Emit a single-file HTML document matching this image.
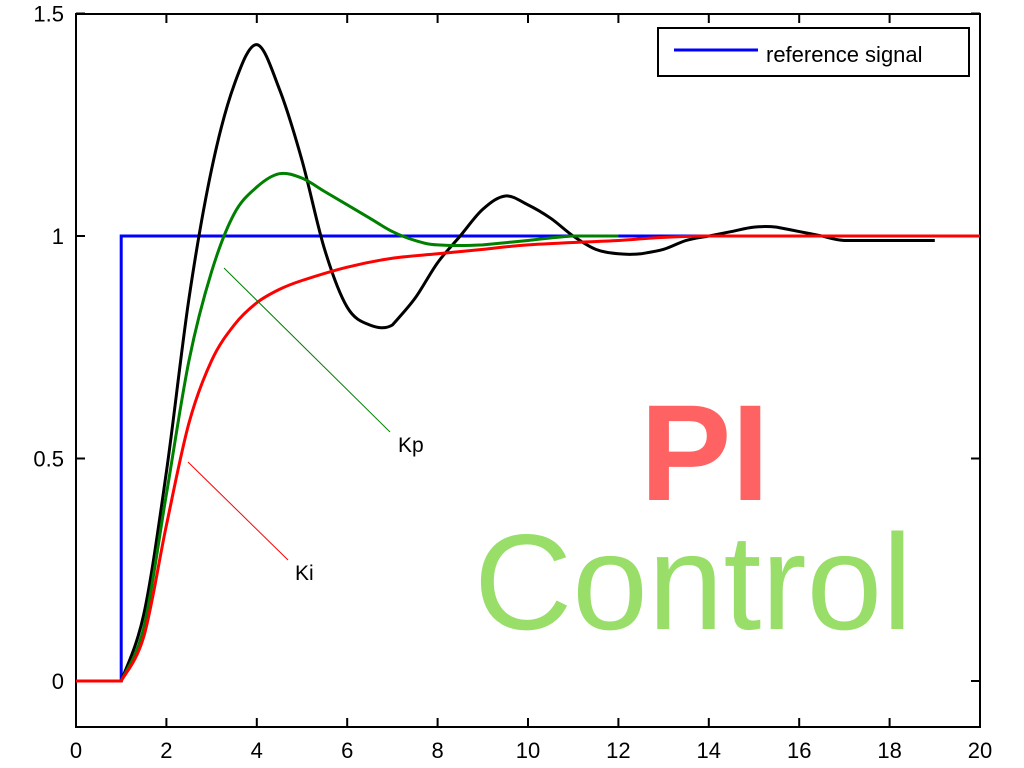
<!DOCTYPE html>
<html><head><meta charset="utf-8"><style>
html,body{margin:0;padding:0;background:#fff;}
svg{display:block;font-family:"Liberation Sans",sans-serif;}
</style></head><body>
<svg id="chart" width="1024" height="768" viewBox="0 0 1024 768" xmlns="http://www.w3.org/2000/svg">
<rect x="76" y="14" width="904" height="713" fill="#fff" stroke="#000" stroke-width="2"/>
<g id="ticks"></g>
<g id="series"></g>
<line x1="224" y1="268" x2="390" y2="432" stroke="#008000" stroke-width="1"/>
<text x="398" y="452" font-size="21">Kp</text>
<line x1="188" y1="462" x2="288" y2="560" stroke="#ff0000" stroke-width="1"/>
<text x="295" y="580" font-size="21">Ki</text>
<g>
<rect x="658" y="28" width="311" height="48" fill="#fff" stroke="#000" stroke-width="2"/>
<line x1="674" y1="50" x2="758" y2="50" stroke="#0000ff" stroke-width="3"/>
<text x="766" y="62" font-size="22">reference signal</text>
</g>
<text x="640" y="500" font-size="137" font-weight="bold" fill="#ff6262">PI</text>
<text x="474" y="629" font-size="136" fill="#98de68">Control</text>
</svg>
<script>
const xTicks=[0,2,4,6,8,10,12,14,16,18,20];
const yTicks=[0,0.5,1,1.5];
const yTickLabels=["0","0.5","1","1.5"];
const refT=[0,1,1,20];
const refV=[0,0,1,1];
const blackT=[0,1,1.5,2,2.5,3,3.5,4,4.5,5,5.5,6,6.5,7,7.5,8,8.5,9,9.5,10,10.5,11,11.5,12,12.5,13,13.5,14,14.5,15,15.5,16,16.5,17,18,19];
const blackV=[0,0,0.15,0.47,0.86,1.15,1.34,1.43,1.33,1.17,0.97,0.84,0.80,0.80,0.86,0.94,1.0,1.06,1.09,1.07,1.04,1.0,0.97,0.96,0.96,0.97,0.99,1.0,1.01,1.02,1.02,1.01,1.0,0.99,0.99,0.99];
const greenT=[0,1,1.5,2,2.5,3,3.5,4,4.5,5,5.5,6,6.5,7,7.5,8,9,10,11,12];
const greenV=[0,0,0.12,0.42,0.72,0.92,1.05,1.11,1.14,1.13,1.10,1.07,1.04,1.01,0.99,0.98,0.98,0.99,1.0,1.0];
const redT=[0,1,1.5,2,2.5,3,3.5,4,4.5,5,6,7,8,9,10,12,14,20];
const redV=[0,0,0.1,0.35,0.58,0.72,0.80,0.85,0.88,0.90,0.93,0.95,0.96,0.97,0.98,0.99,1.0,1.0];
const NS="http://www.w3.org/2000/svg";
const xs=t=>76+t*45.2;
const ys=v=>681-v*445;
const tg=document.getElementById('ticks');
xTicks.forEach(t=>{
  const x=xs(t);
  const l=document.createElementNS(NS,'path');
  l.setAttribute('d',`M${x},727v-9M${x},14v9`);l.setAttribute('stroke','#000');l.setAttribute('stroke-width','2');
  
  
  tg.appendChild(l);
  const tx=document.createElementNS(NS,'text');
  tx.setAttribute('x',x);tx.setAttribute('y',758);tx.setAttribute('font-size','22');tx.setAttribute('text-anchor','middle');
  tx.textContent=t;
  
  
  tg.appendChild(tx);
});
yTicks.forEach((v,i)=>{
  const y=ys(v);
  const l=document.createElementNS(NS,'path');
  l.setAttribute('d',`M76,${y}h9M980,${y}h-9`);l.setAttribute('stroke','#000');l.setAttribute('stroke-width','2');
  
  
  tg.appendChild(l);
  const tx=document.createElementNS(NS,'text');
  tx.setAttribute('x',64);tx.setAttribute('y',y+8);tx.setAttribute('font-size','22');tx.setAttribute('text-anchor','end');
  tx.textContent=yTickLabels[i];
  
  
  tg.appendChild(tx);
});
const sg=document.getElementById('series');
function line(T,V,color,name,smooth){
  const p=document.createElementNS(NS,'path');
  let d='';
  if(!smooth){d=T.map((t,i)=>(i?'L':'M')+xs(t)+','+ys(V[i])).join('');}
  else{
    const P=T.map((t,i)=>[xs(t),ys(V[i])]);
    d='M'+P[0][0]+','+P[0][1];
    for(let i=0;i<P.length-1;i++){
      const p0=P[Math.max(0,i-1)],p1=P[i],p2=P[i+1],p3=P[Math.min(P.length-1,i+2)];
      if(p1[1]===p2[1]&&(p0[1]===p1[1]||p3[1]===p2[1])){d+=`L${p2[0]},${p2[1]}`;continue;}
      const a=(p0[1]===p1[1]&&i>0&&P[i-1]===p0)?p1:p0;
      const c1=[p1[0]+(p2[0]-a[0])/6,p1[1]+(p2[1]-a[1])/6];
      const c2=[p2[0]-(p3[0]-p1[0])/6,p2[1]-(p3[1]-p1[1])/6];
      d+=`C${c1[0]},${c1[1]} ${c2[0]},${c2[1]} ${p2[0]},${p2[1]}`;
    }
  }
  p.setAttribute('d',d);p.setAttribute('fill','none');p.setAttribute('stroke',color);p.setAttribute('stroke-width','3');
  
  
  sg.appendChild(p);
}
line(refT,refV,'#0000ff','reference-signal-line',false);
line(blackT,blackV,'#000000','black-response-line',true);
line(greenT,greenV,'#008000','kp-response-line',true);
line(redT,redV,'#ff0000','ki-response-line',true);
</script>
</body></html>
